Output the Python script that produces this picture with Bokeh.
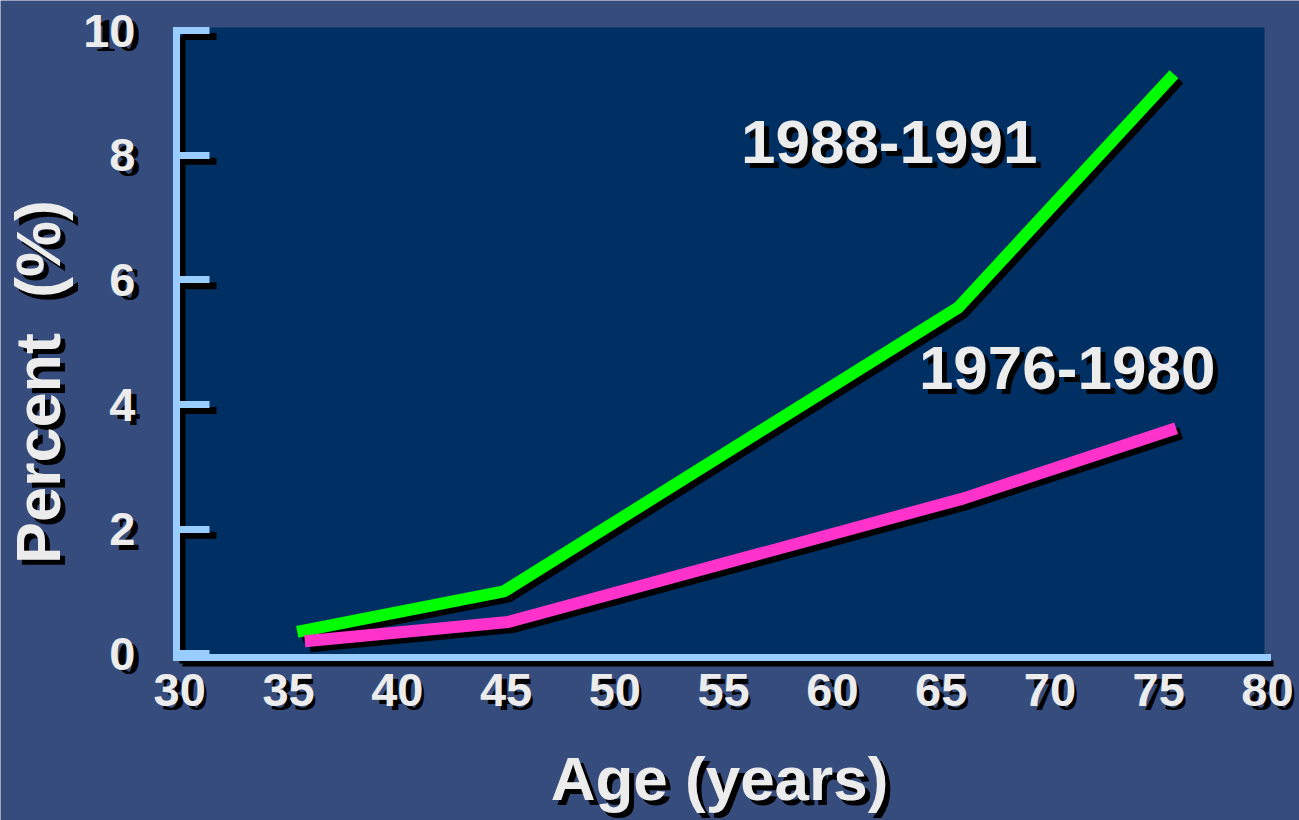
import math
from bokeh.plotting import figure
from bokeh.models import Range1d, FixedTicker, Label, LabelSet, ColumnDataSource, LinearAxis
from bokeh.embed import file_html
from bokeh.resources import INLINE

# ---- data ----
x_ticks = [30, 35, 40, 45, 50, 55, 60, 65, 70, 75, 80]
y_ticks = [0, 2, 4, 6, 8, 10]
x_tick_labels = [str(v) for v in x_ticks]
y_tick_labels = [str(v) for v in y_ticks]

series_1988_name = "1988-1991"
series_1988_age = [35.4, 44.9, 65.8, 75.7]
series_1988_pct = [0.35, 1.0, 5.56, 9.3]

series_1976_name = "1976-1980"
series_1976_age = [35.75, 45.1, 66.0, 75.8]
series_1976_pct = [0.2, 0.51, 2.49, 3.62]

x_title = "Age (years)"
y_title = "Percent \u00a0(%)"

# ---- style ----
FONT = "Liberation Sans"
WHITE = "#ececec"
AXIS_BLUE = "#99ccff"
NAVY = "#003063"
BG = "#364c7d"
GREEN = "#00ff00"
MAGENTA = "#ff33cc"

W, H = 1299, 820
# plot box in canvas pixels and the data values at its edges
BOX_L, BOX_R, BOX_T, BOX_B = 176, 1267, 27, 657
X0, X1 = 29.85, 80.0
Y0, Y1 = -0.06, 10.05
kx = (BOX_R - BOX_L) / (X1 - X0)
ky = (BOX_B - BOX_T) / (Y1 - Y0)
XL = X0 - BOX_L / kx
XR = X1 + (W - BOX_R) / kx
YT = Y1 + BOX_T / ky
YB = Y0 - (H - BOX_B) / ky

p = figure(width=W, height=H, x_range=Range1d(XL, XR), y_range=Range1d(YB, YT),
           output_backend="svg", toolbar_location=None, min_border=0,
           background_fill_color=BG, border_fill_color=BG, outline_line_color=None,
           x_axis_type=None, y_axis_type=None)
p.grid.visible = False


def shifted(dx_px, dy_px):
    return (Range1d(XL - dx_px / kx, XR - dx_px / kx),
            Range1d(YB + dy_px / ky, YT + dy_px / ky))


p.extra_x_ranges["ls"], p.extra_y_ranges["ls"] = shifted(5, 5)
p.extra_x_ranges["as"], p.extra_y_ranges["as"] = shifted(6, 6)

# navy plot area
p.quad(left=[X0], right=[X1 - 3 / kx], bottom=[Y0], top=[Y1],
       fill_color=NAVY, line_color=None, level="image")

# axes placed at the plot-box edges
xaxis = LinearAxis(fixed_location=Y0, bounds=(X0, X1), ticker=FixedTicker(ticks=x_ticks))
yaxis = LinearAxis(fixed_location=X0, bounds=(Y0, 10.0), ticker=FixedTicker(ticks=y_ticks))
for ax in (xaxis, yaxis):
    ax.axis_line_color = AXIS_BLUE
    ax.axis_line_width = 7
    ax.axis_line_cap = "square"
    ax.minor_tick_line_color = None
    ax.major_label_text_font = FONT
    ax.major_label_text_font_style = "bold"
    ax.major_label_text_font_size = "47px"
    ax.major_label_text_color = WHITE

xaxis.major_label_overrides = {v: s for v, s in zip(x_ticks, x_tick_labels)}
xaxis.major_tick_in = 0
xaxis.major_tick_out = 0
xaxis.major_tick_line_color = None
xaxis.major_label_standoff = 16

yaxis.major_label_overrides = {v: s for v, s in zip(y_ticks, y_tick_labels)}
yaxis.major_tick_in = 33
yaxis.major_tick_out = 0
yaxis.major_tick_line_color = AXIS_BLUE
yaxis.major_tick_line_width = 7
yaxis.major_label_standoff = 41

p.add_layout(xaxis, "below")
p.add_layout(yaxis, "left")

# axis shadows
p.line([X0, X0], [Y0, 10.0], line_color="black", line_width=6,
       x_range_name="as", y_range_name="as", level="underlay")
p.line([X0, X1], [Y0, Y0], line_color="black", line_width=6,
       x_range_name="as", y_range_name="as", level="underlay")
p.ray(x=[X0] * (len(y_ticks) - 1), y=y_ticks[1:], length=34, length_units="screen",
      angle=0, line_color="black", line_width=7,
      x_range_name="as", y_range_name="as", level="underlay")

# tick label shadows
xs_src = ColumnDataSource(dict(x=x_ticks, y=[Y0] * len(x_ticks), t=x_tick_labels))
p.add_layout(LabelSet(x="x", y="y", text="t", source=xs_src, x_offset=5, y_offset=-(16 + 5),
                      text_align="center", text_baseline="top", text_color="black",
                      text_font=FONT, text_font_style="bold", text_font_size="47px",
                      level="underlay"))
ys_src = ColumnDataSource(dict(x=[X0] * len(y_ticks), y=y_ticks, t=y_tick_labels))
p.add_layout(LabelSet(x="x", y="y", text="t", source=ys_src, x_offset=-41 + 5, y_offset=-5,
                      text_align="right", text_baseline="middle", text_color="black",
                      text_font=FONT, text_font_style="bold", text_font_size="47px",
                      level="underlay"))

# series lines with shadows
for xs, ys, col in ((series_1988_age, series_1988_pct, GREEN),
                    (series_1976_age, series_1976_pct, MAGENTA)):
    p.line(xs, ys, line_color="black", line_width=12, x_range_name="ls", y_range_name="ls")
    p.line(xs, ys, line_color=col, line_width=12)


def shadow_text(text, x, y, size, angle=0.0, align="center", off=5):
    p.add_layout(Label(x=x, y=y, text=text, x_offset=off, y_offset=-off, angle=angle,
                       text_align=align, text_baseline="middle", text_color="black",
                       text_font=FONT, text_font_style="bold", text_font_size=size))
    p.add_layout(Label(x=x, y=y, text=text, angle=angle,
                       text_align=align, text_baseline="middle", text_color=WHITE,
                       text_font=FONT, text_font_style="bold", text_font_size=size))


shadow_text(series_1988_name, 62.61, 8.164 + 3 / ky, "62px")
shadow_text(series_1976_name, 70.79, 4.537 + 3 / ky, "62px")
shadow_text(x_title, 54.81, -2.083 + 5 / ky, "62px")
shadow_text(y_title, 23.61 - 3 / kx, 4.36, "63px", angle=math.pi / 2)

open("out.html", "w").write(file_html(p, INLINE))
